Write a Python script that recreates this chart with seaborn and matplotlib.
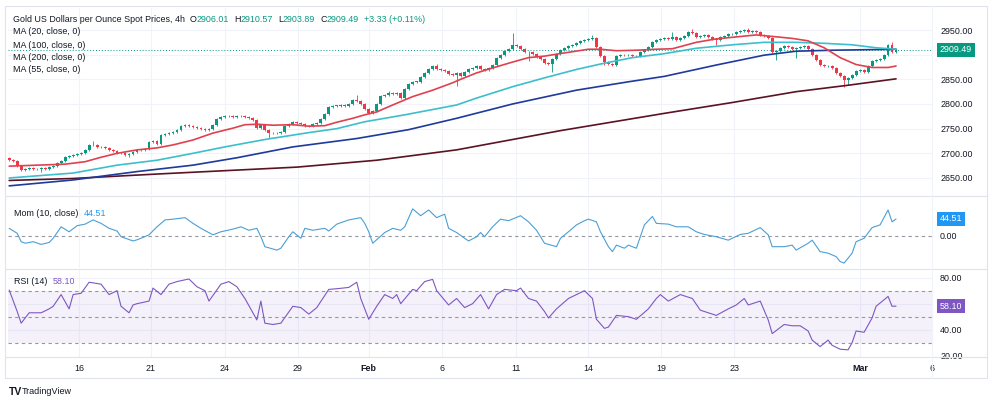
import matplotlib
matplotlib.use("Agg")
import pandas as pd
import seaborn as sns
import matplotlib.pyplot as plt
from matplotlib.lines import Line2D
from matplotlib.patches import Rectangle

# --- candles (4h closes) ---
closes = [
    2686, 2684, 2675, 2666, 2668, 2670, 2668, 2669, 2670, 2668,
    2672, 2674, 2680, 2684, 2693, 2694, 2697, 2698, 2700, 2707,
    2717, 2716, 2712, 2713, 2710, 2707, 2705, 2700, 2700, 2697,
    2698, 2703, 2707, 2706, 2708, 2722, 2724, 2719, 2737, 2739,
    2742, 2744, 2748, 2755, 2757, 2756, 2753, 2751, 2749, 2747,
    2750, 2757, 2770, 2774, 2776, 2775, 2774, 2776, 2775, 2774,
    2772, 2768, 2752, 2758, 2748, 2741, 2741, 2742, 2743, 2755,
    2760, 2763, 2762, 2760, 2755, 2755, 2759, 2762, 2770, 2780,
    2793, 2796, 2796, 2797, 2795, 2800, 2808, 2806, 2800, 2790,
    2782, 2786, 2800, 2816, 2818, 2822, 2821, 2822, 2812, 2830,
    2840, 2845, 2845, 2855, 2863, 2870, 2877, 2870, 2868, 2866,
    2860, 2858, 2862, 2857, 2865, 2870, 2872, 2878, 2870, 2868,
    2872, 2880, 2893, 2900, 2908, 2912, 2920, 2918, 2912, 2905,
    2906, 2901, 2896, 2891, 2884, 2882, 2892, 2901, 2910, 2914,
    2917, 2919, 2924, 2928, 2930, 2932, 2934, 2915, 2897, 2885,
    2882, 2880, 2898, 2900, 2899, 2900, 2898, 2897, 2905, 2910,
    2915, 2925, 2930, 2931, 2933, 2932, 2935, 2930, 2934, 2938,
    2945, 2944, 2936, 2938, 2940, 2936, 2932, 2930, 2935, 2938,
    2941, 2942, 2946, 2947, 2950, 2946, 2948, 2945, 2940, 2937,
    2934, 2905, 2908, 2914, 2917, 2915, 2912, 2913, 2915, 2918,
    2912, 2900, 2890, 2880, 2877, 2878, 2872, 2862, 2856, 2848,
    2852, 2858, 2866, 2868, 2865, 2878, 2887, 2890, 2892, 2900,
    2920, 2906.0, 2909.49]
first_open = 2690
last_open = 2906.01
# long wicks that stand out
wick_highs = {21: 2724, 87: 2818, 95: 2827, 107: 2882, 126: 2944, 146: 2940,
              166: 2946, 171: 2952, 185: 2955, 221: 2926, 222: 2910.57}
wick_lows = {8: 2663, 30: 2693, 65: 2731, 112: 2836, 130: 2888, 136: 2865,
             149: 2879, 177: 2920, 192: 2889, 197: 2893, 209: 2835, 210: 2838,
             222: 2903.89}

# --- moving averages ---
ma20_x = [0, 7, 14, 19, 23, 27, 32, 37, 41, 46, 51, 56, 59, 62, 66, 71, 75, 79, 82, 86,
          89, 92, 96, 101, 106, 111, 113, 117, 121, 126, 130, 134, 137, 141, 145, 148,
          152, 157, 162, 166, 172, 177, 182, 187, 191, 196, 200, 204, 208, 212, 216, 220, 222]
ma20_v = [2674, 2676, 2678, 2683, 2692, 2700, 2707, 2711, 2717, 2727, 2741, 2751, 2758,
          2759, 2757, 2758, 2755, 2756, 2763, 2771, 2778, 2784, 2798, 2815, 2828, 2843,
          2850, 2863, 2873, 2885, 2894, 2897, 2901, 2906, 2911, 2911, 2908, 2909, 2911,
          2912, 2925, 2932, 2936, 2940, 2937, 2933, 2928, 2914, 2894, 2880, 2874, 2874, 2877]
ma55_x = [0, 16, 27, 37, 46, 54, 64, 75, 82, 89, 99, 112, 117, 126, 134, 142, 148, 156,
          164, 172, 181, 189, 197, 204, 211, 217, 222]
ma55_v = [2650, 2660, 2676, 2686, 2700, 2713, 2728, 2742, 2750, 2764, 2778, 2798, 2812,
          2835, 2853, 2870, 2881, 2894, 2902, 2913, 2920, 2925, 2925, 2923, 2920, 2914, 2911]
ma100_x = [0, 16, 32, 46, 57, 71, 87, 100, 112, 126, 142, 155, 164, 177, 189, 197, 206, 222]
ma100_v = [2634, 2646, 2663, 2676, 2691, 2713, 2730, 2748, 2771, 2800, 2828, 2845, 2856,
           2879, 2899, 2907, 2909, 2911]
ma200_x = [0, 16, 37, 57, 72, 92, 112, 138, 164, 181, 197, 210, 222]
ma200_v = [2645, 2649, 2658, 2666, 2672, 2686, 2707, 2746, 2781, 2803, 2825, 2838, 2851]

# --- momentum (10) ---
mom_x = [0, 2, 3, 4, 6, 8, 10, 11, 13, 15, 17, 19, 21, 23, 25, 27, 28, 31, 32, 33,
         35, 37, 39, 41, 44, 46, 48, 51, 53, 56, 58, 60, 62, 63, 64, 67, 68, 70, 71, 73,
         74, 76, 79, 80, 82, 85, 88, 89, 90, 91, 94, 96, 98, 99, 101, 103, 105, 107, 109, 110,
         112, 114, 115, 117, 118, 119, 121, 123, 125, 128, 130, 132, 134, 137, 138, 140, 142, 144, 145, 147,
         148, 150, 151, 152, 154, 155, 157, 159, 161, 162, 165, 167, 170, 172, 174, 177, 180, 183, 185, 188,
         190, 191, 194, 196, 197, 200, 201, 203, 205, 207, 208, 209, 211, 212, 214, 216, 218, 220, 221, 222]
mom_v = [20, 7, -15, -19, -15, -22, -17, -6, 24, 11, 27, 31, 42, 33, 20, 13, -2, -13, -10, -6,
         3, 24, 42, 44, 48, 33, 20, 3, 11, 18, 24, 15, 20, -2, -28, -37, -32, -2, 11, -6,
         20, 15, 20, 13, 31, 42, 48, 33, 11, -19, 9, 20, 15, 24, 71, 53, 68, 48, 57, 20,
         9, -6, -13, -2, 9, -2, 24, 44, 40, 53, 37, 15, -19, -28, -6, 11, 29, 40, 44, 37,
         11, -28, -41, -24, -32, -24, -32, 29, 51, 33, 31, 24, 24, 11, 4, -2, -11, 4, 7, 22,
         3, -28, -28, -24, -37, -19, -11, -41, -45, -54, -67, -71, -45, -15, -6, 22, 29, 68, 37, 44.51]

# --- RSI (14) ---
rsi_x = [0, 2, 3, 5, 8, 10, 11, 13, 15, 16, 18, 20, 23, 25, 27, 28, 30, 31, 32, 35,
         36, 38, 40, 42, 45, 47, 49, 50, 53, 55, 57, 59, 62, 63, 64, 66, 68, 71, 73, 75,
         77, 80, 82, 85, 87, 88, 90, 92, 94, 96, 97, 98, 101, 102, 104, 106, 107, 110, 112, 114,
         116, 118, 120, 122, 124, 127, 128, 130, 132, 134, 135, 137, 140, 142, 144, 146, 147, 149, 150, 152,
         155, 157, 160, 162, 163, 165, 168, 171, 173, 175, 177, 180, 182, 184, 185, 188, 190, 191, 194, 196,
         198, 200, 201, 203, 205, 206, 208, 210, 211, 212, 214, 216, 217, 219, 220, 221, 222]
rsi_v = [70.5, 54, 45, 53, 53, 56, 58, 67, 56, 67, 68, 76.5, 75, 67, 70, 58, 53, 59, 60, 62,
         72, 67, 75, 77, 79, 73, 70, 62, 75, 77, 73, 64, 47.5, 62, 45, 44, 45, 58, 57, 52,
         57, 71, 71.5, 72.5, 76.5, 64, 48, 58, 67, 64, 67, 60, 71, 70, 77, 78.7, 70, 59, 64, 57,
         60, 67, 56, 67, 71, 70, 72, 64, 62, 54, 49, 56, 64, 67, 70, 64, 48, 41, 42, 51,
         50, 48, 56, 64, 67, 62, 67, 64, 55, 53, 51, 56, 59, 64, 59, 62, 47.5, 37, 44, 43,
         43, 39, 32, 27, 32, 28, 25, 24.5, 30, 39, 38, 49, 58, 63, 65.6, 58, 58.1]

# x axis: day starts in bar units
tick_pos = [17.5, 35.5, 54, 72.25, 90, 108.25, 126.75, 145, 163.25, 181.5, 213, 231]
tick_lab = ["16", "21", "24", "29", "Feb", "6", "11", "14", "19", "23", "Mar", "6"]

# right scale ticks (labels hidden under the last-value boxes are left blank)
price_ticks = [2650, 2700, 2750, 2800, 2850, 2900, 2950]
price_labels = ["2650.00", "2700.00", "2750.00", "2800.00", "2850.00", "", "2950.00"]
rsi_ticks = [20, 40, 60, 80]
rsi_labels = ["20.00", "40.00", "", "80.00"]

UP, DOWN = "#089981", "#f23645"
TXT = "#131722"
GRID = "#f0f3fa"
BORDER = "#e0e3eb"
FS = 6.4

sns.set_theme(style="white")
plt.rcParams['font.family'] = ['Liberation Sans', 'DejaVu Sans']

W, H = 993, 405
fig = plt.figure(figsize=(W / 100, H / 100), dpi=100)


def box(top, bottom):
    return [8 / W, 1 - bottom / H, (932 - 8) / W, (bottom - top) / H]


ax = fig.add_axes(box(8, 195))
ax_mom = fig.add_axes(box(197, 268), sharex=ax)
ax_rsi = fig.add_axes(box(270, 357), sharex=ax)

# candles
df = pd.DataFrame({"close": closes})
df["open"] = df["close"].shift(1)
df.loc[0, "open"] = first_open
df.loc[len(df) - 1, "open"] = last_open
df["top"] = df[["open", "close"]].max(axis=1)
df["bot"] = df[["open", "close"]].min(axis=1)
df["high"] = df["top"] + 2
df["low"] = df["bot"] - 2
for k, v in wick_highs.items():
    df.loc[k, "high"] = v
for k, v in wick_lows.items():
    df.loc[k, "low"] = v
df["color"] = [UP if c >= o else DOWN for o, c in zip(df["open"], df["close"])]
idx = df.index.values
ax.vlines(idx, df["low"], df["high"], colors=df["color"], lw=0.6, zorder=2)
ax.bar(idx, (df["top"] - df["bot"]).clip(lower=1.0), bottom=df["bot"], width=0.72,
       color=df["color"], lw=0, zorder=2)

# moving averages
for xs, ys, col in [(ma200_x, ma200_v, "#5b1323"), (ma100_x, ma100_v, "#1e3a9c"),
                    (ma55_x, ma55_v, "#3cbfcb"), (ma20_x, ma20_v, "#e0414f")]:
    sns.lineplot(x=xs, y=ys, ax=ax, color=col, lw=1.2, estimator=None, sort=False, zorder=3)

ax.axhline(closes[-1], color=UP, ls=(0, (1, 2)), lw=0.7, zorder=1)
ax.set_ylim(2615.5, 2994.6)
ax.set_yticks(price_ticks)
ax.set_yticklabels(price_labels)

# momentum
ax_mom.axhline(0, color="#9598a1", ls=(0, (3, 3)), lw=0.8)
sns.lineplot(x=mom_x, y=mom_v, ax=ax_mom, color="#4b9fd5", lw=0.8, estimator=None, sort=False)
ax_mom.set_ylim(-83.8, 102)
ax_mom.set_yticks([0])
ax_mom.set_yticklabels(["0.00"])

# RSI
ax_rsi.axhspan(30, 70, color="#7e57c2", alpha=0.08, lw=0)
for lvl in (30, 50, 70):
    ax_rsi.axhline(lvl, color="#9598a1", ls=(0, (3, 3)), lw=0.8)
sns.lineplot(x=rsi_x, y=rsi_v, ax=ax_rsi, color="#7e57c2", lw=0.8, estimator=None, sort=False)
ax_rsi.set_ylim(19, 85.9)
ax_rsi.set_yticks(rsi_ticks)
ax_rsi.set_yticklabels(rsi_labels)

for a in (ax, ax_mom, ax_rsi):
    a.set_xlim(-0.3, 231)
    a.set_xlabel("")
    a.set_ylabel("")
    a.yaxis.tick_right()
    a.tick_params(axis="y", length=0, pad=5.8, labelsize=FS, labelcolor=TXT)
    a.tick_params(axis="x", length=0)
    for s in a.spines.values():
        s.set_visible(False)
    for p in tick_pos:
        a.axvline(p, color=GRID, lw=0.8, zorder=0)
    a.set_facecolor("none")

for v in price_ticks:
    ax.axhline(v, color=GRID, lw=0.8, zorder=0)
for v in (40, 60, 80):
    ax_rsi.axhline(v, color=GRID, lw=0.8, zorder=0)

ax_rsi.set_xticks(tick_pos)
ax_rsi.set_xticklabels(tick_lab)
ax_rsi.tick_params(axis="x", labelsize=FS, labelcolor=TXT, pad=5)
for lab in ax_rsi.get_xticklabels():
    if lab.get_text() in ("Feb", "Mar"):
        lab.set_fontweight("bold")
plt.setp(ax.get_xticklabels(), visible=False)
plt.setp(ax_mom.get_xticklabels(), visible=False)

# last value boxes on the right scale
for a, val, txt, col in [(ax, closes[-1], "2909.49", UP),
                         (ax_mom, mom_v[-1], "44.51", "#2196f3"),
                         (ax_rsi, rsi_v[-1], "58.10", "#7e57c2")]:
    a.annotate(txt, xy=(1, val), xycoords=a.get_yaxis_transform(), xytext=(8, 0),
               textcoords="offset pixels", ha="left", va="center", fontsize=FS,
               color="white", annotation_clip=False, zorder=5,
               bbox=dict(boxstyle="square,pad=0.3", fc=col, ec="none"))

# frame and separators
fig.add_artist(Rectangle((5 / W, 1 - 378 / H), 982 / W, 372 / H, transform=fig.transFigure,
                         fill=False, ec=BORDER, lw=0.8))
for yy in (196, 269, 357):
    fig.add_artist(Line2D([5 / W, 987 / W], [1 - yy / H, 1 - yy / H], color=BORDER, lw=0.8))
fig.add_artist(Line2D([932 / W, 932 / W], [1 - 378 / H, 1 - 6 / H], color=GRID, lw=0.8))

# legend texts
rend = fig.canvas.get_renderer()


def chain(x, y, pieces, size=FS):
    # pieces: (text, colour, gap in px after it)
    for txt, col, gap in pieces:
        t = fig.text(x / W, 1 - y / H, txt, color=col, fontsize=size, va="center", ha="left")
        x += t.get_window_extent(renderer=rend).width + gap


chain(13, 20, [("Gold US Dollars per Ounce Spot Prices, 4h", TXT, 5),
               ("O", TXT, 0), ("2906.01", UP, 5),
               ("H", TXT, 0), ("2910.57", UP, 5),
               ("L", TXT, 0), ("2903.89", UP, 5),
               ("C", TXT, 0), ("2909.49", UP, 5),
               ("+3.33 (+0.11%)", UP, 0)])
for yy, txt in [(32, "MA (20, close, 0)"), (45, "MA (100, close, 0)"),
                (57, "MA (200, close, 0)"), (70, "MA (55, close, 0)")]:
    chain(13, yy, [(txt, TXT, 0)])
chain(14, 214, [("Mom (10, close)", TXT, 5), ("44.51", "#2196f3", 0)])
chain(14, 282, [("RSI (14)", TXT, 5), ("58.10", "#7e57c2", 0)])

fig.text(9 / W, 1 - 392 / H, "TV", fontsize=7.5, fontweight="heavy", color=TXT, va="center")
fig.text(22 / W, 1 - 392 / H, "TradingView", fontsize=6.5, color=TXT, va="center")

fig.savefig("out.png", dpi=100)
